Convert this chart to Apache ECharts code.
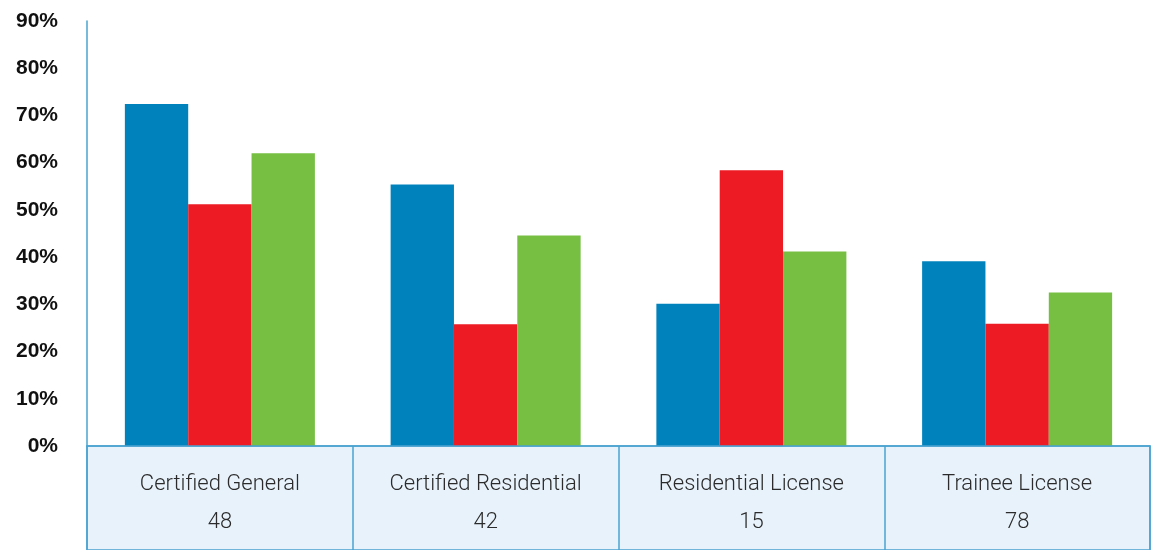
<!DOCTYPE html>
<html>
<head>
<meta charset="utf-8">
<script src="https://cdn.jsdelivr.net/npm/echarts@6/dist/echarts.min.js"></script>
<style>
html,body{margin:0;padding:0;background:#fff;}
#chart{width:1152px;height:550px;}
</style>
</head>
<body>
<div id="chart"></div>
<script>
const categories = ['Certified General', 'Certified Residential', 'Residential License', 'Trainee License'];
const counts = ['48', '42', '15', '78'];
const seriesBlue = [72.4, 55.4, 30.1, 39.1];
const seriesRed = [51.2, 25.8, 58.4, 25.9];
const seriesGreen = [62.0, 44.6, 41.2, 32.5];
const yTicks = { min: 0, max: 90, interval: 10 };

const axisColor = '#4aa3d0';
const chart = echarts.init(document.getElementById('chart'));
chart.setOption({
  animation: false,
  backgroundColor: '#ffffff',
  grid: [
    { left: 87, right: 2, top: 21, bottom: 104 },
    { left: 87, right: 2, top: 446, bottom: -30, show: true, backgroundColor: '#e8f2fb', borderColor: axisColor, borderWidth: 1.5 }
  ],
  xAxis: [
    {
      type: 'category', gridIndex: 0, data: categories,
      axisLine: { show: true, lineStyle: { color: axisColor, width: 1.5 } },
      axisTick: { show: false },
      axisLabel: {
        margin: 19,
        formatter: function (v, i) { return '{a|' + v + '}\n{b|' + counts[i] + '}'; },
        rich: {
          a: { fontFamily: 'Roboto', fontSize: 22, fontWeight: 300, color: '#2b2b2b', lineHeight: 38, align: 'center' },
          b: { fontFamily: 'Roboto', fontSize: 22, fontWeight: 300, color: '#2b2b2b', lineHeight: 38, align: 'center' }
        }
      },
      z: 10
    },
    {
      type: 'category', gridIndex: 1, data: categories,
      axisLine: { show: false }, axisTick: { show: false }, axisLabel: { show: false },
      splitLine: { show: true, lineStyle: { color: axisColor, width: 1.5 } }
    }
  ],
  yAxis: [
    {
      type: 'value', gridIndex: 0, min: yTicks.min, max: yTicks.max, interval: yTicks.interval,
      axisLine: { show: true, lineStyle: { color: axisColor, width: 1.5 } },
      axisTick: { show: false },
      splitLine: { show: false },
      axisLabel: { formatter: '{value}%', margin: 29, fontFamily: 'Liberation Sans', fontWeight: 'bold', fontSize: 21, color: '#111' }
    },
    { type: 'value', gridIndex: 1, show: false }
  ],
  series: [
    { name: 'A', type: 'bar', data: seriesBlue, itemStyle: { color: '#0083bd' }, barGap: '0%', barCategoryGap: '28.5%' },
    { name: 'B', type: 'bar', data: seriesRed, itemStyle: { color: '#ed1c24' } },
    { name: 'C', type: 'bar', data: seriesGreen, itemStyle: { color: '#76bf43' } }
  ]
});
</script>
</body>
</html>
